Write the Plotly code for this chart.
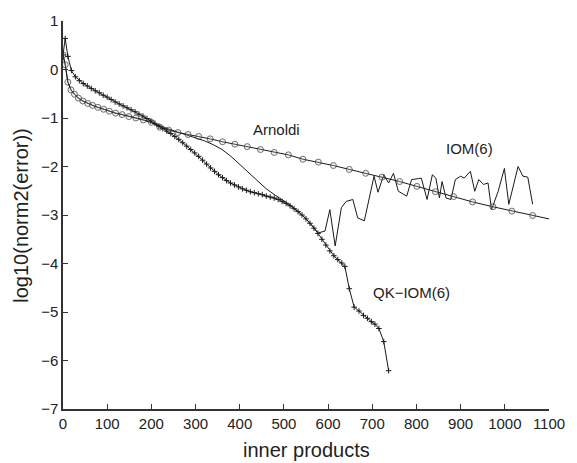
import plotly.graph_objects as go

# Arnoldi (circles)
arn_x = [0, 5, 11, 18, 26, 35, 45, 56, 67, 79, 92, 105, 119, 134, 149, 165, 182, 200, 219, 239,
         260, 283, 307, 333, 361, 389, 417, 447, 478, 510, 543, 578, 612, 648, 685, 722, 762, 801,
         843, 884, 927, 973, 1016, 1063, 1100]
arn_y = [0.30, 0.10, -0.26, -0.42, -0.51, -0.59, -0.65, -0.70, -0.74, -0.78, -0.82, -0.86, -0.90,
         -0.93, -0.97, -1.00, -1.04, -1.09, -1.19, -1.25, -1.30, -1.34, -1.38, -1.43, -1.49, -1.54,
         -1.59, -1.65, -1.71, -1.76, -1.85, -1.91, -1.98, -2.06, -2.14, -2.22, -2.31, -2.41, -2.52,
         -2.62, -2.73, -2.83, -2.92, -3.01, -3.08]

# IOM(6) (plain line)
iom_x = [0, 5, 11, 18, 26, 35, 45, 56, 67, 79, 92, 105, 119, 134, 149, 165, 182, 200, 220, 240,
         260, 280, 300, 320, 340, 360, 380, 400, 420, 440, 460, 480, 500, 515, 530, 545, 560, 578,
         593, 604, 616, 630, 641, 656, 667, 682, 704, 713, 726, 737, 748, 759, 778, 789, 804, 811,
         824, 836, 844, 852, 858, 867, 878, 888, 900, 908, 922, 932, 941, 952, 962, 970, 985, 999,
         1009, 1030, 1041, 1052, 1063]
iom_y = [0.30, 0.10, -0.26, -0.42, -0.51, -0.59, -0.65, -0.70, -0.74, -0.78, -0.82, -0.86, -0.90,
         -0.93, -0.97, -1.00, -1.04, -1.09, -1.16, -1.23, -1.29, -1.35, -1.41, -1.47, -1.55, -1.65,
         -1.79, -1.96, -2.14, -2.31, -2.46, -2.59, -2.70, -2.80, -2.91, -3.03, -3.18, -3.37,
         -3.33, -2.89, -3.64, -2.85, -2.72, -2.68, -3.06, -3.12, -2.20, -2.53, -2.17, -2.34, -2.14,
         -2.51, -2.61, -2.27, -2.25, -2.24, -2.68, -2.17, -2.24, -2.65, -2.31, -2.65, -2.68, -2.27,
         -2.20, -2.24, -2.10, -2.51, -2.27, -2.37, -2.34, -2.89, -2.51, -2.04, -2.78, -2.00, -2.20,
         -2.22, -2.78]

# QK-IOM(6) (plus markers)
qk_x = [0, 5, 11, 19, 28, 37, 46, 55, 64, 73, 82, 91, 100, 109, 118, 127, 136, 145, 154, 163, 172,
        181, 190, 199, 208, 217, 226, 235, 244, 253, 262, 271, 280, 289, 298, 307, 316, 325, 334,
        343, 352, 361, 370, 379, 388, 397, 406, 415, 424, 433, 442, 451, 460, 469, 478, 487, 496,
        505, 514, 523, 532, 541, 550, 559, 568, 577, 586, 595, 604, 613, 622, 631, 638, 648, 659,
        670, 680, 689, 698, 706, 715, 726, 737]
qk_y = [0.30, 0.64, 0.27, -0.02, -0.15, -0.23, -0.29, -0.34, -0.39, -0.44, -0.48, -0.53, -0.57,
        -0.62, -0.67, -0.71, -0.75, -0.79, -0.83, -0.87, -0.92, -0.96, -1.01, -1.06, -1.11, -1.17,
        -1.22, -1.27, -1.32, -1.38, -1.44, -1.51, -1.58, -1.65, -1.72, -1.79, -1.87, -1.95, -2.03,
        -2.10, -2.17, -2.23, -2.29, -2.34, -2.38, -2.42, -2.46, -2.49, -2.52, -2.54, -2.56, -2.58,
        -2.61, -2.63, -2.65, -2.68, -2.72, -2.76, -2.81, -2.87, -2.93, -3.00, -3.08, -3.17, -3.27,
        -3.38, -3.50, -3.62, -3.74, -3.84, -3.92, -3.99, -4.06, -4.52, -4.90, -4.98, -5.07, -5.13,
        -5.20, -5.25, -5.34, -5.61, -6.21]

x_ticks = [0, 100, 200, 300, 400, 500, 600, 700, 800, 900, 1000, 1100]
y_ticks = [1, 0, -1, -2, -3, -4, -5, -6, -7]

labels = ["Arnoldi", "IOM(6)", "QK\u2212IOM(6)"]
label_x = [484, 919, 788]
label_y = [-1.24, -1.63, -4.59]

FONT = "Liberation Sans, Arial, sans-serif"
LC = "#1a1a1a"

fig = go.Figure()
fig.add_trace(go.Scatter(x=iom_x, y=iom_y, mode="lines",
                         line=dict(color=LC, width=1), showlegend=False))
arn_sizes = [6] * (len(arn_x) - 1) + [0]
fig.add_trace(go.Scatter(x=arn_x, y=arn_y, mode="lines+markers",
                         line=dict(color=LC, width=1),
                         marker=dict(symbol="circle", size=arn_sizes, color="rgba(200,200,200,0.35)",
                                     line=dict(color="#333", width=1)),
                         showlegend=False))
fig.add_trace(go.Scatter(x=qk_x, y=qk_y, mode="lines+markers",
                         line=dict(color=LC, width=1),
                         marker=dict(symbol="cross-thin", size=4,
                                     line=dict(color=LC, width=1)),
                         showlegend=False))

for t, xx, yy in zip(labels, label_x, label_y):
    fig.add_annotation(x=xx, y=yy, text=t, showarrow=False, xanchor="center", yanchor="middle",
                       font=dict(family=FONT, size=15, color="#222"))

fig.add_annotation(xref="paper", yref="paper", x=0.5, y=-0.105, text="inner products",
                   xanchor="center", yanchor="middle",
                   showarrow=False, font=dict(family=FONT, size=20, color="#222"))
fig.add_annotation(xref="paper", yref="paper", x=-0.087, y=0.5, text="log10(norm2(error))",
                   xanchor="center", yanchor="middle",
                   textangle=-90, showarrow=False, font=dict(family=FONT, size=20, color="#222"))

axis_common = dict(showgrid=False, zeroline=False, showline=True, linecolor="#333", linewidth=1.5,
                   ticks="inside", ticklen=5, tickwidth=1, tickcolor="#333",
                   tickfont=dict(family=FONT, size=15, color="#222"), mirror=False)

fig.update_xaxes(range=[0, 1100], tickvals=x_ticks, ticktext=[str(v) for v in x_ticks],
                 **axis_common)
fig.update_yaxes(range=[-7, 1], tickvals=y_ticks,
                 ticktext=[("\u2212" + str(-v)) if v < 0 else str(v) for v in y_ticks],
                 **axis_common)

fig.update_layout(width=577, height=463, margin=dict(l=63, r=18, t=18, b=54),
                  plot_bgcolor="white", paper_bgcolor="white")

fig.write_html("out.html")
